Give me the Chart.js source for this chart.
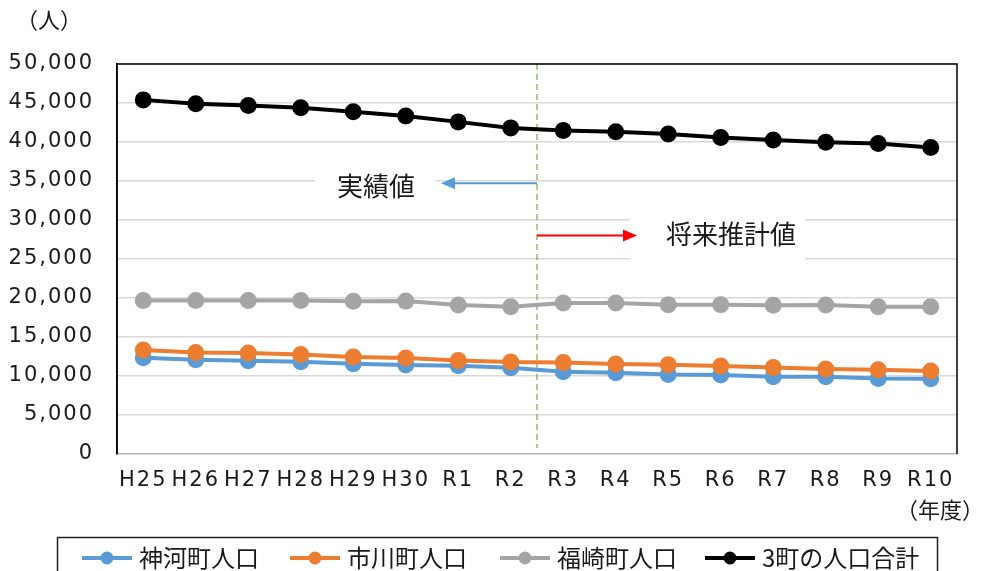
<!DOCTYPE html>
<html>
<head>
<meta charset="utf-8">
<script src="https://cdn.jsdelivr.net/npm/chart.js@4.4.0/dist/chart.umd.min.js"></script>
<style>
  html, body { margin: 0; padding: 0; background: #fff; }
</style>
</head>
<body>
<canvas id="pop-chart" width="984" height="571"></canvas>
<script>
// 年度
const years = ['H25', 'H26', 'H27', 'H28', 'H29', 'H30', 'R1', 'R2', 'R3', 'R4', 'R5', 'R6', 'R7', 'R8', 'R9', 'R10']

// 人口（人）
const kamikawa = [12340, 12080, 11950, 11830, 11570, 11400, 11310, 11050, 10540, 10410, 10190, 10120, 9900, 9900, 9680, 9640]
const ichikawa = [13330, 13020, 12940, 12760, 12430, 12300, 11990, 11790, 11740, 11530, 11440, 11270, 11090, 10890, 10800, 10630]
const fukusaki = [19670, 19670, 19670, 19670, 19580, 19600, 19110, 18890, 19370, 19370, 19150, 19150, 19060, 19100, 18890, 18890]
const total = [45400, 44900, 44690, 44380, 43870, 43320, 42580, 41810, 41480, 41300, 41040, 40580, 40270, 39970, 39800, 39290]

const seriesLabels = ['神河町人口', '市川町人口', '福崎町人口', '3町の人口合計']
const seriesColors = ['#5b9bd5', '#ed7d31', '#a5a5a5', '#000000']

// y axis
const yMin = 0
const yMax = 50000
const yStep = 5000

// 実績値 / 将来推計値 の区切り（R2 と R3 の間）
const splitIndex = 7.5
const actualLabel = '実績値'
const forecastLabel = '将来推計値'

const FONT = "'DejaVu Sans', 'Noto Sans CJK JP', sans-serif"
const JP_FONT = "'Noto Sans CJK JP', sans-serif"

// draws the split line, arrows, labels, frame and the legend
const decorations = {
  id: 'decorations',
  beforeUpdate(chart) {
    // the reference font is wide, so space the tick text a little
    chart.ctx.letterSpacing = '2px'
  },
  beforeDatasetsDraw(chart) {
    const { ctx, chartArea: area, scales: { x, y } } = chart
    const splitX = (x.getPixelForValue(Math.floor(splitIndex)) + x.getPixelForValue(Math.ceil(splitIndex))) / 2
    ctx.save()
    ctx.letterSpacing = '0px'

    // white boxes behind the labels
    ctx.fillStyle = '#fff'
    ctx.fillRect(315, 165, 120, 40)
    ctx.fillRect(630, 208, 175, 54)

    // dashed split line
    ctx.strokeStyle = '#70ad47'
    ctx.lineWidth = 1.2
    ctx.setLineDash([6, 4])
    ctx.beginPath()
    ctx.moveTo(splitX, area.top)
    ctx.lineTo(splitX, area.bottom - 6)
    ctx.stroke()
    ctx.setLineDash([])

    // arrows
    const arrow = (x0, x1, yy, color) => {
      const dir = Math.sign(x1 - x0)
      ctx.strokeStyle = color
      ctx.fillStyle = color
      ctx.lineWidth = 2
      ctx.beginPath()
      ctx.moveTo(x0, yy)
      ctx.lineTo(x1 - dir * 12, yy)
      ctx.stroke()
      ctx.beginPath()
      ctx.moveTo(x1, yy)
      ctx.lineTo(x1 - dir * 14, yy - 6)
      ctx.lineTo(x1 - dir * 14, yy + 6)
      ctx.closePath()
      ctx.fill()
    }
    arrow(splitX, 441, y.getPixelForValue(34700), '#5b9bd5')
    arrow(splitX, 637, y.getPixelForValue(28000), '#ff0000')

    ctx.fillStyle = '#1a1a1a'
    ctx.font = '26px ' + JP_FONT
    ctx.textAlign = 'center'
    ctx.textBaseline = 'middle'
    ctx.fillText(actualLabel, 376, 186)
    ctx.fillText(forecastLabel, 731, 234)
    ctx.restore()
  },
  afterDraw(chart) {
    const { ctx, chartArea: area } = chart
    ctx.save()
    ctx.letterSpacing = '0px'
    // frame: top and right in black
    ctx.strokeStyle = '#000'
    ctx.lineWidth = 1.5
    ctx.beginPath()
    ctx.moveTo(area.left, area.bottom)
    ctx.lineTo(area.left, area.top)
    ctx.lineTo(area.right, area.top)
    ctx.lineTo(area.right, area.bottom)
    ctx.stroke()

    // unit labels
    ctx.fillStyle = '#1a1a1a'
    ctx.font = '22px ' + JP_FONT
    ctx.textBaseline = 'middle'
    ctx.textAlign = 'left'
    ctx.fillText('（人）', 16, 20)
    ctx.textAlign = 'right'
    ctx.fillText('（年度）', 984, 510)

    // legend
    ctx.strokeStyle = '#222'
    ctx.lineWidth = 1.5
    ctx.strokeRect(57.5, 537.5, 880, 50)
    const itemX = [82, 290, 500, 705]
    const ly = 558
    chart.data.datasets.forEach((ds, i) => {
      const lx = itemX[i]
      ctx.strokeStyle = ds.borderColor
      ctx.lineWidth = 4
      ctx.beginPath()
      ctx.moveTo(lx, ly)
      ctx.lineTo(lx + 50, ly)
      ctx.stroke()
      ctx.fillStyle = ds.borderColor
      ctx.beginPath()
      ctx.arc(lx + 25, ly, 6.5, 0, Math.PI * 2)
      ctx.fill()
      ctx.fillStyle = '#1a1a1a'
      ctx.font = '24px ' + JP_FONT
      ctx.textAlign = 'left'
      ctx.fillText(ds.label, lx + 57, ly)
    })
    ctx.restore()
  }
}

const allSeries = [kamikawa, ichikawa, fukusaki, total]

const chart = new Chart(document.getElementById('pop-chart'), {
  type: 'line',
  data: {
    labels: years,
    datasets: allSeries.map((values, i) => ({
      label: seriesLabels[i],
      data: values,
      borderColor: seriesColors[i],
      backgroundColor: seriesColors[i],
      borderWidth: 4,
      pointRadius: 8.5,
      pointHoverRadius: 8.5,
      pointBorderWidth: 0,
      tension: 0,
      order: 4 - i,
    })),
  },
  options: {
    responsive: false,
    animation: false,
    layout: { padding: { top: 64, right: 27, bottom: 72, left: 0 } },
    plugins: {
      legend: { display: false },
      tooltip: { enabled: false },
    },
    scales: {
      x: {
        offset: true,
        grid: { display: false, drawTicks: false },
        border: { color: '#bfbfbf', width: 1.5 },
        ticks: { color: '#1a1a1a', font: { family: FONT, size: 21 }, padding: 14, maxRotation: 0, autoSkip: false },
        afterFit: (scale) => { scale.height = 45 },
      },
      y: {
        min: yMin,
        max: yMax,
        grid: { color: '#d9d9d9', lineWidth: 1.5, drawTicks: false },
        border: { color: '#000', width: 1.5 },
        ticks: {
          stepSize: yStep,
          color: '#1a1a1a',
          font: { family: FONT, size: 21 },
          padding: 23,
          callback: (v) => v.toLocaleString('en-US'),
        },
        afterFit: (scale) => { scale.width = 117 },
      },
    },
  },
  plugins: [decorations],
})
</script>
</body>
</html>
